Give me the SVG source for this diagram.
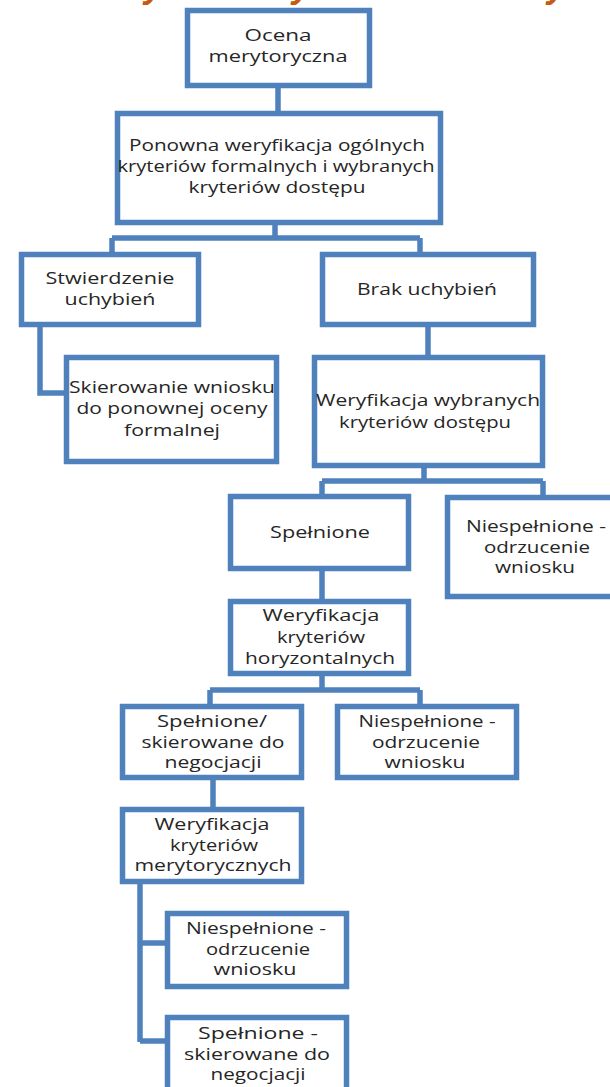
<svg xmlns="http://www.w3.org/2000/svg" width="610" height="1087" viewBox="0 0 610 1087">
<style>
.box{fill:#fff;stroke:#4F81BD;stroke-width:5.5}
.con{fill:none;stroke:#4F81BD;stroke-width:5.5;stroke-linejoin:miter;stroke-linecap:butt}
.t{font-family:"Open Sans","Liberation Sans",sans-serif;font-size:16px;fill:#262626;text-anchor:middle}
.title{font-family:"Liberation Sans",sans-serif;font-size:36px;font-weight:bold;font-style:italic;fill:#C55A11}
</style>
<rect width="610" height="1087" fill="#fff"/>
<g id="title-fragments">
<text class="title" x="144" y="-3">y</text>
<text class="title" x="292" y="-3">y</text>
<text class="title" x="547" y="-3">y</text>
</g>
<g id="connectors">
<path class="con" d="M278,88 V111"/>
<path class="con" d="M275,225 V238 M112,238 H420 M112,238 V252 M420,238 V252"/>
<path class="con" d="M40,327 V393 H64"/>
<path class="con" d="M428,327 V355"/>
<path class="con" d="M424,468 V481 M322,481 H543 M322,481 V494 M543,481 V495"/>
<path class="con" d="M322,571 V599"/>
<path class="con" d="M322,676 V690 M210,690 H420 M210,690 V704 M420,690 V704"/>
<path class="con" d="M213,780 V807"/>
<path class="con" d="M140,884 V1042 M140,943 H165 M140,1041 H165"/>
</g>
<g id="n1">
<rect class="box" x="187.5" y="10.5" width="182" height="75"/>
<text class="t" x="278" y="41" textLength="67" lengthAdjust="spacingAndGlyphs">Ocena</text>
<text class="t" x="278" y="62" textLength="139" lengthAdjust="spacingAndGlyphs">merytoryczna</text>
</g>
<g id="n2">
<rect class="box" x="117.5" y="113.5" width="323" height="109"/>
<text class="t" x="277" y="151" textLength="296" lengthAdjust="spacingAndGlyphs">Ponowna weryfikacja ogólnych</text>
<text class="t" x="276" y="172" textLength="317" lengthAdjust="spacingAndGlyphs">kryteriów formalnych i wybranych</text>
<text class="t" x="277" y="193" textLength="177" lengthAdjust="spacingAndGlyphs">kryteriów dostępu</text>
</g>
<g id="n3">
<rect class="box" x="21.5" y="254.5" width="177" height="70"/>
<text class="t" x="110" y="284" textLength="129" lengthAdjust="spacingAndGlyphs">Stwierdzenie</text>
<text class="t" x="110" y="305" textLength="91" lengthAdjust="spacingAndGlyphs">uchybień</text>
</g>
<g id="n4">
<rect class="box" x="322.5" y="254.5" width="211" height="70"/>
<text class="t" x="427" y="295" textLength="140" lengthAdjust="spacingAndGlyphs">Brak uchybień</text>
</g>
<g id="n5">
<rect class="box" x="66.5" y="357.5" width="210" height="104"/>
<text class="t" x="172" y="393" textLength="206" lengthAdjust="spacingAndGlyphs">Skierowanie wniosku</text>
<text class="t" x="172" y="414" textLength="191" lengthAdjust="spacingAndGlyphs">do ponownej oceny</text>
<text class="t" x="172" y="436" textLength="96" lengthAdjust="spacingAndGlyphs">formalnej</text>
</g>
<g id="n6">
<rect class="box" x="314.5" y="357.5" width="228" height="108"/>
<text class="t" x="428" y="406" textLength="224" lengthAdjust="spacingAndGlyphs">Weryfikacja wybranych</text>
<text class="t" x="425" y="428" textLength="172" lengthAdjust="spacingAndGlyphs">kryteriów dostępu</text>
</g>
<g id="n7">
<rect class="box" x="230.5" y="496.5" width="178" height="72"/>
<text class="t" x="320" y="538" textLength="100" lengthAdjust="spacingAndGlyphs">Spełnione</text>
</g>
<g id="n8">
<rect class="box" x="447.5" y="497.5" width="175" height="99"/>
<text class="t" x="536" y="532" textLength="140" lengthAdjust="spacingAndGlyphs">Niespełnione -</text>
<text class="t" x="537" y="553" textLength="106" lengthAdjust="spacingAndGlyphs">odrzucenie</text>
<text class="t" x="535" y="573" textLength="80" lengthAdjust="spacingAndGlyphs">wniosku</text>
</g>
<g id="n9">
<rect class="box" x="230.5" y="601.5" width="178" height="72"/>
<text class="t" x="321" y="621" textLength="117" lengthAdjust="spacingAndGlyphs">Weryfikacja</text>
<text class="t" x="321" y="643" textLength="88" lengthAdjust="spacingAndGlyphs">kryteriów</text>
<text class="t" x="320" y="664" textLength="150" lengthAdjust="spacingAndGlyphs">horyzontalnych</text>
</g>
<g id="n10">
<rect class="box" x="122.5" y="706.5" width="179" height="71"/>
<text class="t" x="212" y="727" textLength="110" lengthAdjust="spacingAndGlyphs">Spełnione/</text>
<text class="t" x="213" y="748" textLength="143" lengthAdjust="spacingAndGlyphs">skierowane do</text>
<text class="t" x="213" y="768" textLength="97" lengthAdjust="spacingAndGlyphs">negocjacji</text>
</g>
<g id="n11">
<rect class="box" x="337.5" y="706.5" width="179" height="71"/>
<text class="t" x="427" y="727" textLength="137" lengthAdjust="spacingAndGlyphs">Niespełnione -</text>
<text class="t" x="426" y="748" textLength="108" lengthAdjust="spacingAndGlyphs">odrzucenie</text>
<text class="t" x="425" y="768" textLength="81" lengthAdjust="spacingAndGlyphs">wniosku</text>
</g>
<g id="n12">
<rect class="box" x="122.5" y="809.5" width="179" height="72"/>
<text class="t" x="212" y="830" textLength="115" lengthAdjust="spacingAndGlyphs">Weryfikacja</text>
<text class="t" x="214" y="851" textLength="88" lengthAdjust="spacingAndGlyphs">kryteriów</text>
<text class="t" x="213" y="871" textLength="157" lengthAdjust="spacingAndGlyphs">merytorycznych</text>
</g>
<g id="n13">
<rect class="box" x="167.5" y="913.5" width="179" height="73"/>
<text class="t" x="256" y="934" textLength="140" lengthAdjust="spacingAndGlyphs">Niespełnione -</text>
<text class="t" x="258" y="955" textLength="104" lengthAdjust="spacingAndGlyphs">odrzucenie</text>
<text class="t" x="255" y="975" textLength="83" lengthAdjust="spacingAndGlyphs">wniosku</text>
</g>
<g id="n14">
<rect class="box" x="167.5" y="1017.5" width="179" height="75"/>
<text class="t" x="258" y="1039" textLength="120" lengthAdjust="spacingAndGlyphs">Spełnione -</text>
<text class="t" x="257" y="1060" textLength="146" lengthAdjust="spacingAndGlyphs">skierowane do</text>
<text class="t" x="258" y="1080" textLength="95" lengthAdjust="spacingAndGlyphs">negocjacji</text>
</g>
</svg>
